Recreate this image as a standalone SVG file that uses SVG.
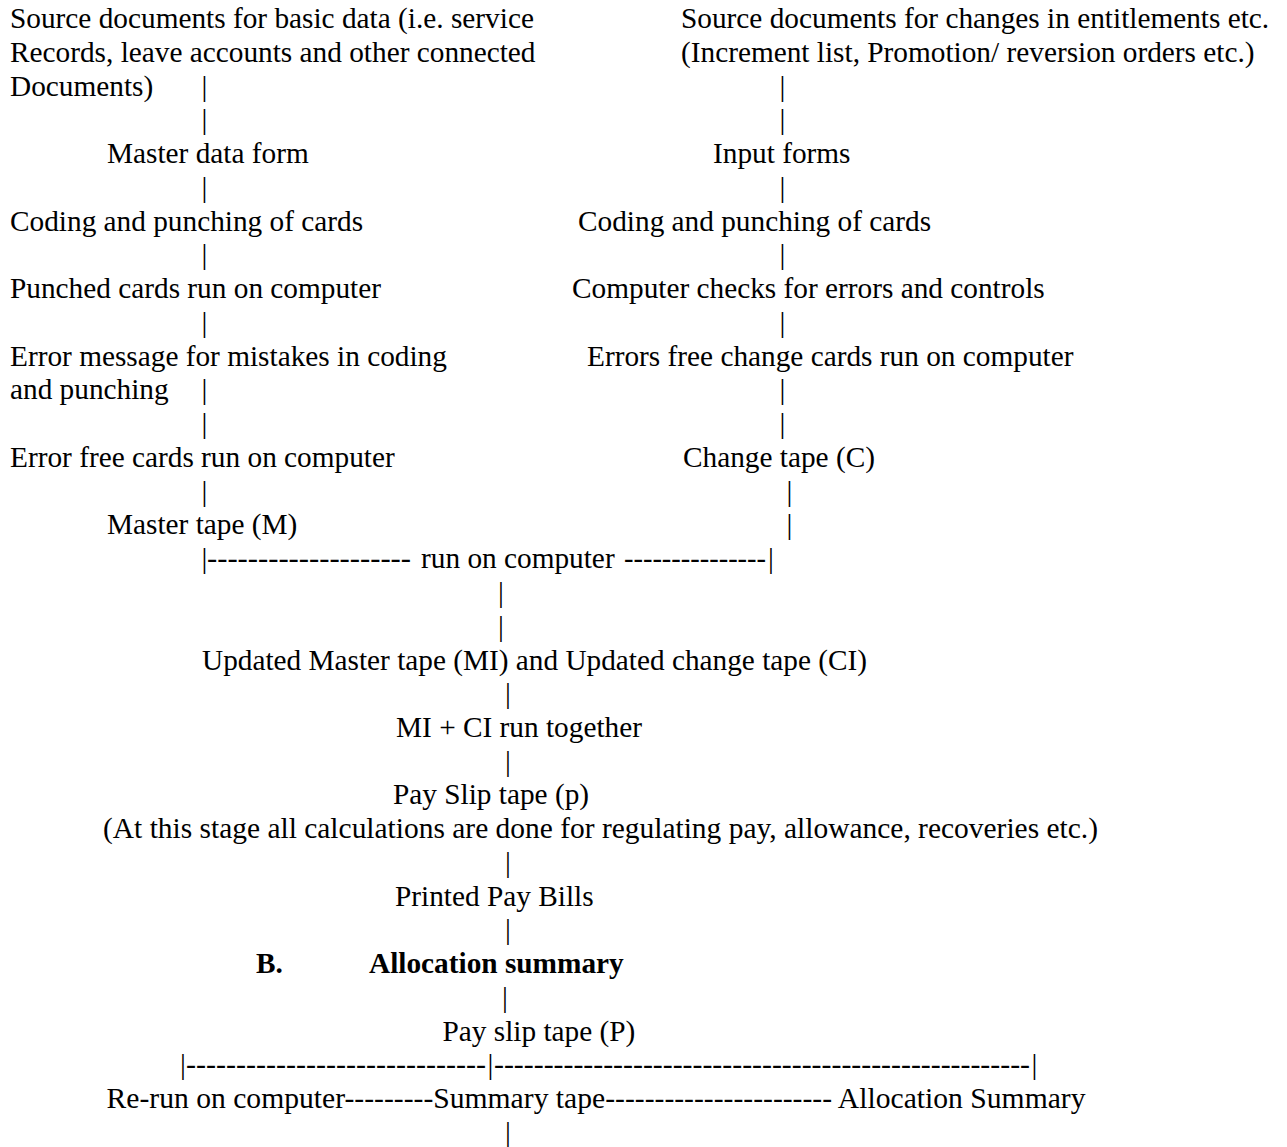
<svg xmlns="http://www.w3.org/2000/svg" width="1287" height="1147" viewBox="0 0 1287 1147">
<style>
text{font-family:"Liberation Serif","Times New Roman",serif;font-size:29.3px;fill:#000}
.b{font-weight:bold}
.c{text-anchor:middle}
</style>
<rect x="0" y="0" width="1287" height="1147" fill="#fff"/>
<g id="src-basic"><text x="10" y="28">Source documents for basic data (i.e. service</text><text x="10" y="61.75">Records, leave accounts and other connected</text><text x="10" y="95.5">Documents)</text></g>
<g id="src-changes"><text x="681" y="28">Source documents for changes in entitlements etc.</text><text x="681" y="61.75">(Increment list, Promotion/ reversion orders etc.)</text></g>
<g id="master-data-form"><text x="107" y="163">Master data form</text></g>
<g id="input-forms"><text x="713" y="163">Input forms</text></g>
<g id="coding-left"><text x="10" y="230.5">Coding and punching of cards</text></g>
<g id="coding-right"><text x="578" y="230.5">Coding and punching of cards</text></g>
<g id="punched-run"><text x="10" y="298">Punched cards run on computer</text></g>
<g id="computer-checks"><text x="572" y="298">Computer checks for errors and controls</text></g>
<g id="error-message"><text x="10" y="365.5">Error message for mistakes in coding</text><text x="10" y="399.25">and punching</text></g>
<g id="errors-free-change"><text x="587" y="365.5">Errors free change cards run on computer</text></g>
<g id="error-free-cards"><text x="10" y="466.75">Error free cards run on computer</text></g>
<g id="change-tape"><text x="683" y="466.75">Change tape (C)</text></g>
<g id="master-tape"><text x="107" y="534.25">Master tape (M)</text></g>
<g id="run-on-computer"><text x="421" y="568">run on computer</text></g>
<g id="updated-tapes"><text x="202" y="670" textLength="665" lengthAdjust="spacingAndGlyphs">Updated Master tape (MI) and Updated change tape (CI)</text></g>
<g id="mi-ci"><text x="396" y="736.75">MI + CI run together</text></g>
<g id="pay-slip-tape-p"><text x="393" y="803.5">Pay Slip tape (p)</text><text x="103" y="838" textLength="995" lengthAdjust="spacingAndGlyphs">(At this stage all calculations are done for regulating pay, allowance, recoveries etc.)</text></g>
<g id="printed-pay-bills"><text x="395" y="905.5">Printed Pay Bills</text></g>
<g id="allocation-heading"><text class="b" x="256" y="973">B.</text><text class="b" x="369" y="973">Allocation summary</text></g>
<g id="pay-slip-tape-P"><text x="442.5" y="1040.5">Pay slip tape (P)</text></g>
<g id="bottom-row"><text x="106.5" y="1108" textLength="979" lengthAdjust="spacingAndGlyphs">Re-run on computer---------Summary tape----------------------- Allocation Summary</text></g>
<g id="connectors">
<text class="c" x="204.5" y="95.5">|</text>
<text class="c" x="204.5" y="129.25">|</text>
<text class="c" x="204.5" y="196.75">|</text>
<text class="c" x="204.5" y="264.25">|</text>
<text class="c" x="204.5" y="331.75">|</text>
<text class="c" x="204.5" y="399.25">|</text>
<text class="c" x="204.5" y="433">|</text>
<text class="c" x="204.5" y="500.5">|</text>
<text class="c" x="782.5" y="95.5">|</text>
<text class="c" x="782.5" y="129.25">|</text>
<text class="c" x="782.5" y="196.75">|</text>
<text class="c" x="782.5" y="264.25">|</text>
<text class="c" x="782.5" y="331.75">|</text>
<text class="c" x="782.5" y="399.25">|</text>
<text class="c" x="782.5" y="433">|</text>
<text class="c" x="789.5" y="500.5">|</text>
<text class="c" x="789.5" y="534.25">|</text>
<text class="c" x="204.5" y="568">|</text>
<text x="207" y="568" textLength="204" lengthAdjust="spacingAndGlyphs">--------------------</text>
<text x="624" y="568" textLength="142" lengthAdjust="spacingAndGlyphs">---------------</text>
<text class="c" x="771" y="568">|</text>
<text class="c" x="501" y="601.75">|</text>
<text class="c" x="501" y="635.5">|</text>
<text class="c" x="508" y="703">|</text>
<text class="c" x="508" y="770.5">|</text>
<text class="c" x="508" y="871.75">|</text>
<text class="c" x="508" y="939.25">|</text>
<text class="c" x="505" y="1006.75">|</text>
<text class="c" x="183" y="1074.25">|</text>
<text x="186" y="1074.25" textLength="300" lengthAdjust="spacingAndGlyphs">------------------------------</text>
<text class="c" x="490.5" y="1074.25">|</text>
<text x="494" y="1074.25" textLength="536" lengthAdjust="spacingAndGlyphs">------------------------------------------------------</text>
<text class="c" x="1034.5" y="1074.25">|</text>
<text class="c" x="508" y="1141.75">|</text>
</g>
</svg>
